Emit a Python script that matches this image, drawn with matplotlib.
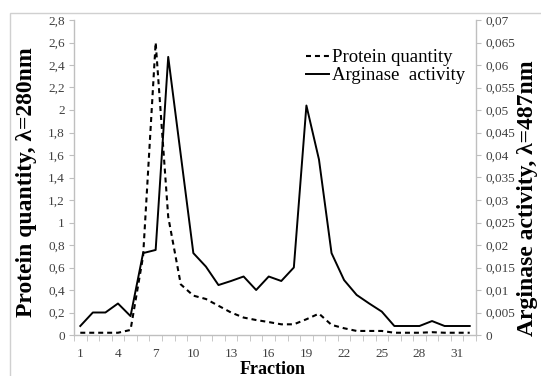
import matplotlib
matplotlib.use("Agg")
import matplotlib.pyplot as plt
from matplotlib.patches import Rectangle
from matplotlib.ticker import FuncFormatter, FixedLocator
from matplotlib.lines import Line2D

fractions = list(range(1, 33))
protein = [0.02, 0.02, 0.02, 0.02, 0.045, 0.7, 2.6, 1.05, 0.45, 0.35, 0.32, 0.26,
           0.2, 0.155, 0.133, 0.115, 0.095, 0.095, 0.14, 0.19, 0.09, 0.06, 0.036, 0.036,
           0.036, 0.02, 0.02, 0.02, 0.025, 0.02, 0.02, 0.02]
arginase = [0.002, 0.005, 0.005, 0.007, 0.0042, 0.0182, 0.0189, 0.0618, 0.040, 0.0182,
            0.0152, 0.0111, 0.012, 0.013, 0.010, 0.013, 0.012, 0.015, 0.051, 0.039,
            0.0182, 0.0122, 0.0089, 0.007, 0.0052, 0.002, 0.002, 0.002, 0.0031, 0.002,
            0.002, 0.002]
xtick_labels = [1, 4, 7, 10, 13, 16, 19, 22, 25, 28, 31]
left_ticks = [round(0.2 * i, 1) for i in range(15)]
right_ticks = [round(0.005 * i, 3) for i in range(15)]

plt.rcParams['font.family'] = ['Liberation Serif', 'DejaVu Serif']

W, H = 541, 376
fig = plt.figure(figsize=(W / 100, H / 100), dpi=100)

# outer chart frame
fig.patches.append(Rectangle((9.5 / W, -0.1), 1.2, 1.1 - 12.7 / H,
                             transform=fig.transFigure, fill=False,
                             edgecolor='#d0d0d0', linewidth=1.0))

x0, x1, ytop, ybot = 74, 476, 20, 335
ax = fig.add_axes([x0 / W, 1 - ybot / H, (x1 - x0) / W, (ybot - ytop) / H])
ax2 = ax.twinx()

def fmt(v, _):
    s = ('%.3f' % v).rstrip('0').rstrip('.')
    return s.replace('.', ',')

gray = '#bfbfbf'
tcol = '#404040'

l1, = ax.plot(fractions, protein, color='black', lw=1.5, ls=(0, (2.4, 1.9)))
l2, = ax2.plot(fractions, arginase, color='black', lw=1.4)

ax.set_xlim(0.5, 32.5)
ax.set_ylim(0, 2.8)
ax2.set_ylim(0, 0.07)

ax.set_yticks(left_ticks)
ax.yaxis.set_major_formatter(FuncFormatter(fmt))
ax2.set_yticks(right_ticks)
ax2.yaxis.set_major_formatter(FuncFormatter(fmt))

ax.xaxis.set_major_locator(FixedLocator(xtick_labels))
ax.xaxis.set_minor_locator(FixedLocator([i + 0.5 for i in range(0, 33)]))
ax.tick_params(axis='x', which='major', length=0, pad=9.5, labelsize=9.5, labelcolor=tcol)
ax.tick_params(axis='x', which='minor', length=4, color=gray, direction='out')
ax.tick_params(axis='y', length=3.5, color=gray, labelsize=9.5, labelcolor=tcol, pad=3)
ax2.tick_params(axis='y', length=3.5, color=gray, labelsize=9.5, labelcolor=tcol, pad=3)

for a in (ax, ax2):
    a.spines['top'].set_visible(False)
    for s in ('left', 'right', 'bottom'):
        a.spines[s].set_color(gray)
        a.spines[s].set_linewidth(1.0)
ax.spines['right'].set_visible(False)
ax2.spines['left'].set_visible(False)
ax2.spines['bottom'].set_visible(False)

fig.text(27 / W, 1 - 182 / H, 'Protein quantity, λ=280nm', rotation=90,
         ha='center', va='center', fontsize=17, fontweight='bold')
fig.text(527 / W, 1 - 198 / H, 'Arginase activity, λ=487nm', rotation=90,
         ha='center', va='center', fontsize=17, fontweight='bold')
fig.text(273 / W, 1 - 369 / H, 'Fraction', ha='center', va='center',
         fontsize=13, fontweight='bold')

h1 = Line2D([], [], color='black', lw=1.5, ls=(0, (2.4, 1.9)))
h2 = Line2D([], [], color='black', lw=1.4)
fig.legend([h1, h2], ['Protein quantity', 'Arginase  activity'],
           loc='upper left', bbox_to_anchor=(306 / W, 1 - 49 / H),
           frameon=False, fontsize=13.5, handlelength=1.2, handletextpad=0.2,
           labelspacing=0.05, borderpad=0, borderaxespad=0)

fig.savefig('out.png', dpi=100)
